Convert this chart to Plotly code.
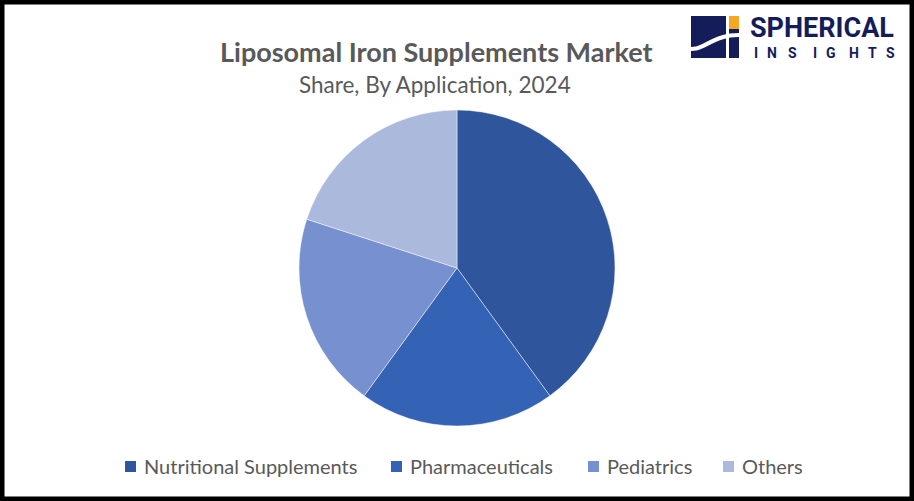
import plotly.graph_objects as go

categories = ["Nutritional Supplements", "Pharmaceuticals", "Pediatrics", "Others"]
shares = [40, 20, 20, 20]
colors = ["#2f559c", "#3463b6", "#7790d0", "#abb9dd"]

title = "Liposomal Iron Supplements Market"
subtitle = "Share, By Application, 2024"

W, H = 914, 501

fig = go.Figure()
fig.add_trace(go.Pie(
    labels=categories, values=shares, sort=False, direction="clockwise", rotation=0,
    marker=dict(colors=colors, line=dict(color="rgba(255,255,255,0.45)", width=1)),
    textinfo="none", hoverinfo="label+percent", showlegend=False,
    domain=dict(x=[299 / W, 615 / W], y=[(H - 426) / H, (H - 110) / H]),
))

annotations = [
    dict(text="<b>" + title + "</b>", x=436 / W, y=1 - 51 / H, xref="paper", yref="paper",
         showarrow=False, font=dict(family="Lato", size=27, color="#595959"), xanchor="center", yanchor="middle"),
    dict(text=subtitle, x=435 / W, y=1 - 84 / H, xref="paper", yref="paper",
         showarrow=False, font=dict(family="Lato", size=22.5, color="#595959"), xanchor="center", yanchor="middle"),
]
shapes = []

# manual legend
leg_x = [125, 391, 588, 723]
for cat, col, lx in zip(categories, colors, leg_x):
    shapes.append(dict(type="rect", xref="paper", yref="paper",
                       x0=lx / W, x1=(lx + 11) / W, y0=1 - 472 / H, y1=1 - 461 / H,
                       fillcolor=col, line=dict(width=0)))
    annotations.append(dict(text=cat, x=(lx + 17) / W, y=1 - 466 / H, xref="paper", yref="paper",
                            showarrow=False, xanchor="left", yanchor="middle",
                            font=dict(family="Lato", size=20, color="#595959")))

# logo
navy = "#141c5a"
shapes += [
    dict(type="rect", xref="paper", yref="paper", x0=691 / W, x1=739 / W, y0=1 - 58 / H, y1=1 - 16 / H,
         fillcolor=navy, line=dict(width=0)),
    dict(type="rect", xref="paper", yref="paper", x0=728 / W, x1=739 / W, y0=1 - 29 / H, y1=1 - 16 / H,
         fillcolor="#f7a823", line=dict(width=0)),
    dict(type="rect", xref="paper", yref="paper", x0=726 / W, x1=729 / W, y0=1 - 58 / H, y1=1 - 16 / H,
         fillcolor="white", line=dict(width=0)),
    dict(type="path", xref="paper", yref="paper",
         path=f"M {691/W},{1-47/H} C {705/W},{1-47/H} {712/W},{1-33/H} {739/W},{1-33/H} "
              f"L {739/W},{1-37/H} C {714/W},{1-37/H} {707/W},{1-51/H} {691/W},{1-51/H} Z",
         fillcolor="white", line=dict(width=0)),
]
annotations.append(
    dict(text="<b>SPHERICAL</b>", x=748 / W, y=1 - 28 / H, xref="paper", yref="paper", showarrow=False,
         xanchor="left", yanchor="middle", font=dict(family="Roboto", size=27, color=navy)))
for ch, lx in zip("INSIGHTS", [752, 765, 786, 811, 824, 847, 866, 884]):
    annotations.append(dict(text="<b>" + ch + "</b>", x=lx / W, y=1 - 53 / H, xref="paper", yref="paper",
                            showarrow=False, xanchor="left", yanchor="middle",
                            font=dict(family="Roboto", size=14, color=navy)))

# border
shapes.append(dict(type="rect", xref="paper", yref="paper", x0=0, x1=1, y0=0, y1=1,
                   line=dict(color="black", width=9), fillcolor="rgba(0,0,0,0)"))

fig.update_layout(width=W, height=H, margin=dict(l=0, r=0, t=0, b=0),
                  paper_bgcolor="white", plot_bgcolor="white",
                  annotations=annotations, shapes=shapes)

fig.write_html("out.html", config={"displayModeBar": False},
               post_script="document.body.style.margin='0';")
